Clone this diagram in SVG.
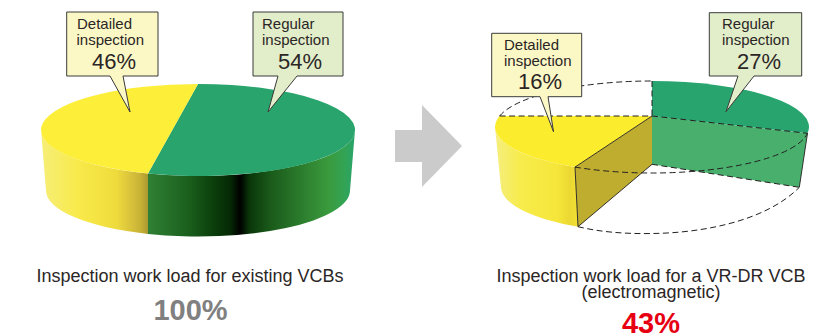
<svg xmlns="http://www.w3.org/2000/svg" width="840" height="336" viewBox="0 0 840 336">
  <defs>
    <!-- shading of the curved rim, existing VCB pie -->
    <linearGradient id="rimYellowA" gradientUnits="userSpaceOnUse" x1="41" y1="0" x2="148" y2="0">
      <stop offset="0" stop-color="#f6ee78"/>
      <stop offset="0.35" stop-color="#f8ea4a"/>
      <stop offset="0.7" stop-color="#efdc3c"/>
      <stop offset="0.82" stop-color="#dcc63c"/>
      <stop offset="0.93" stop-color="#c8b236"/>
      <stop offset="1" stop-color="#ad9830"/>
    </linearGradient>
    <linearGradient id="rimGreenA" gradientUnits="userSpaceOnUse" x1="148" y1="0" x2="355" y2="0">
      <stop offset="0" stop-color="#2f8034"/>
      <stop offset="0.11" stop-color="#246e28"/>
      <stop offset="0.2" stop-color="#1a5e1c"/>
      <stop offset="0.31" stop-color="#0c400c"/>
      <stop offset="0.4" stop-color="#052805"/>
      <stop offset="0.445" stop-color="#000000"/>
      <stop offset="0.49" stop-color="#0a360a"/>
      <stop offset="0.59" stop-color="#1a5a1a"/>
      <stop offset="0.73" stop-color="#2a7a2c"/>
      <stop offset="0.87" stop-color="#3a9a3c"/>
      <stop offset="0.95" stop-color="#33a455"/>
      <stop offset="1" stop-color="#28a46c"/>
    </linearGradient>
    <!-- shading of the curved rim, VR-DR pie -->
    <linearGradient id="rimYellowB" gradientUnits="userSpaceOnUse" x1="495" y1="0" x2="578" y2="0">
      <stop offset="0" stop-color="#f5ee80"/>
      <stop offset="0.3" stop-color="#f7ec4c"/>
      <stop offset="0.75" stop-color="#f6e63a"/>
      <stop offset="0.9" stop-color="#ebd832"/>
      <stop offset="1" stop-color="#f2e036"/>
    </linearGradient>
  </defs>

  <style>
    .label { font-family: "Liberation Sans", Arial, Helvetica, sans-serif; fill: #2b2626; }
    .small { font-size: 15px; }
    .pct { font-size: 22px; }
    .caption { font-size: 18px; text-anchor: middle; }
    .total { font-family: "Liberation Sans", Arial, Helvetica, sans-serif; font-size: 29px; font-weight: bold; text-anchor: middle; }
    .box { stroke: #3a3a3a; stroke-width: 1; stroke-linejoin: miter; }
    .boxY { fill: #fbf8c6; }
    .boxG { fill: #e2eec9; }
    .dash { fill: none; stroke: #231f20; stroke-width: 1; stroke-dasharray: 6 3.5; }
    .edge { fill: none; stroke: #231f20; stroke-width: 0.9; }
  </style>

  <rect width="840" height="336" fill="#ffffff"/>

  <!-- Existing VCB: full pie -->
  <g id="pie-existing">
    <path d="M41,130 A157,46 0 0 0 148,173.6 L148,233.9 A152,46 0 0 1 46,190.5 Z" fill="url(#rimYellowA)"/>
    <path d="M148,173.6 A157,46 0 0 0 355,130 L350,190.5 A152,46 0 0 1 148,233.9 Z" fill="url(#rimGreenA)"/>
    <path d="M198,84 A157,46 0 1 1 148,173.6 Z" fill="#28a46c"/>
    <path d="M198,84 A157,46 0 0 0 148,173.6 Z" fill="#fdee3a"/>
  </g>

  <!-- VR-DR VCB: reduced pie with dashed outline of the original -->
  <g id="pie-vrdr">
    <path d="M495,127 A157,46 0 0 0 575,167.1 L578,226.7 A150,46 0 0 1 501,188 Z" fill="url(#rimYellowB)"/>
    <path d="M652,116 L575,167.1 L578,226.7 L652,164.3 Z" fill="#bfad30"/>
    <path d="M652,116 L807.5,133.3 L799.3,187.3 L652,164.3 Z" fill="#48b06c"/>
    <path d="M652,116 L499.6,116 A157,46 0 0 0 575,167.1 Z" fill="#fcec2e"/>
    <path d="M652,116 L652,81 A157,46 0 0 1 807.5,133.3 Z" fill="#28a46e"/>
    <!-- outline of the original pie -->
    <path class="dash" d="M499.6,116 A157,46 0 0 1 652,81"/>
    <path class="dash" d="M499.6,116 H652"/>
    <path class="dash" d="M652,81 V116"/>
    <path class="dash" d="M652,116 L807.5,133.3"/>
    <path class="dash" d="M575,167.1 A157,46 0 0 0 807.5,133.3"/>
    <path class="dash" d="M652,164.3 L799.3,187.3"/>
    <path class="dash" d="M578,226.7 C600,232 625,234 652,233.5 C700,233 765,222 799.3,187.3"/>
    <path class="edge" d="M652,116 L575,167.1 L578,226.7 L652,164.3"/>
    <path class="edge" d="M807.5,133.3 L799.3,187.3"/>
  </g>

  <!-- callouts, existing VCB -->
  <g id="callout-detailed-existing">
    <path class="box boxY" d="M66.7,12 H158 V76 H123 L130,112 L110,76 H66.7 Z"/>
    <text class="label small" x="77" y="29">Detailed</text>
    <text class="label small" x="76.5" y="45">inspection</text>
    <text class="label pct" x="114" y="69" text-anchor="middle">46%</text>
  </g>
  <g id="callout-regular-existing">
    <path class="box boxG" d="M253,12 H343 V76 H297 L268,112 L278,76 H253 Z"/>
    <text class="label small" x="262" y="29">Regular</text>
    <text class="label small" x="262" y="45">inspection</text>
    <text class="label pct" x="300" y="69" text-anchor="middle">54%</text>
  </g>

  <!-- callouts, VR-DR VCB -->
  <g id="callout-detailed-vrdr">
    <path class="box boxY" d="M491.7,33.3 H581.7 V96.7 H548 L553.5,131.7 L540,96.7 H491.7 Z"/>
    <text class="label small" x="504" y="49.5">Detailed</text>
    <text class="label small" x="504" y="65.5">inspection</text>
    <text class="label pct" x="540" y="89" text-anchor="middle">16%</text>
  </g>
  <g id="callout-regular-vrdr">
    <path class="box boxG" d="M709.3,12.7 H801.7 V76 H754 L726,111.7 L738,76 H709.3 Z"/>
    <text class="label small" x="722" y="29">Regular</text>
    <text class="label small" x="722" y="45">inspection</text>
    <text class="label pct" x="759" y="69" text-anchor="middle">27%</text>
  </g>

  <!-- captions -->
  <g id="caption-existing">
    <text class="label caption" x="190" y="282">Inspection work load for existing VCBs</text>
    <text class="total" x="190.5" y="319.5" fill="#808080">100%</text>
  </g>
  <g id="caption-vrdr">
    <text class="label caption" x="651" y="281.5">Inspection work load for a VR-DR VCB</text>
    <text class="label caption" x="651" y="298">(electromagnetic)</text>
    <text class="total" x="651" y="332.5" fill="#e60012">43%</text>
  </g>

  <!-- connectors -->
  <g id="connectors">
    <polygon points="395,130 422,130 422,105 462,146 422,187 422,162 395,162" fill="#cbcbcb"/>
  </g>
</svg>
